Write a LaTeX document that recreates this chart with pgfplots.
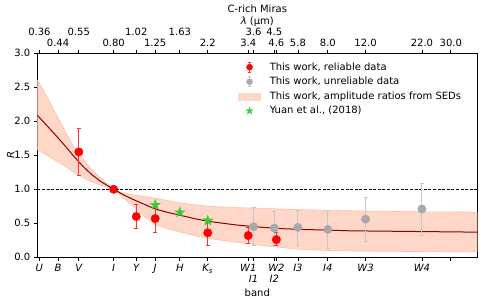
\documentclass[border=0pt]{standalone}
\usepackage{fontspec}
\setmainfont{DejaVu Sans}
\usepackage{pgfplots}
\pgfplotsset{compat=1.18}
\usepgfplotslibrary{fillbetween}

\definecolor{bandfill}{RGB}{255,215,200}
\definecolor{bandedge}{RGB}{252,192,170}
\definecolor{curvecol}{RGB}{139,0,0}
\definecolor{grayc}{RGB}{169,169,169}
\definecolor{grayerr}{RGB}{200,200,200}
\definecolor{starc}{RGB}{50,205,50}
\definecolor{rederr}{RGB}{255,50,50}

\pgfdeclareplotmark{fstar}{%
  \pgfpathmoveto{\pgfpointpolar{90}{\pgfplotmarksize}}%
  \pgfpathlineto{\pgfpointpolar{126}{0.382\pgfplotmarksize}}%
  \pgfpathlineto{\pgfpointpolar{162}{\pgfplotmarksize}}%
  \pgfpathlineto{\pgfpointpolar{198}{0.382\pgfplotmarksize}}%
  \pgfpathlineto{\pgfpointpolar{234}{\pgfplotmarksize}}%
  \pgfpathlineto{\pgfpointpolar{270}{0.382\pgfplotmarksize}}%
  \pgfpathlineto{\pgfpointpolar{306}{\pgfplotmarksize}}%
  \pgfpathlineto{\pgfpointpolar{342}{0.382\pgfplotmarksize}}%
  \pgfpathlineto{\pgfpointpolar{18}{\pgfplotmarksize}}%
  \pgfpathlineto{\pgfpointpolar{54}{0.382\pgfplotmarksize}}%
  \pgfpathclose
  \pgfusepathqfillstroke
}
\newcommand{\low}[1]{\raisebox{-11pt}[\height][\depth]{#1}}

\begin{document}
\begin{tikzpicture}
\begin{axis}[
  name=main,
  scale only axis, width=440pt, height=204pt,
  xmode=log, xmin=0.352, xmax=39.9, ymin=0, ymax=3,
  xtick={0.36,0.44,0.55,0.80,1.02,1.25,1.63,2.2,3.4,3.6,4.5,4.6,5.8,8.0,12.0,22.0,30.0},
  xticklabels={\itshape U,\itshape B,\itshape V,\itshape I,\itshape Y,\itshape J,\itshape H,{\itshape K\textsubscript{s}},\itshape W1,{\low{\itshape I1}},{\low{\itshape I2}},\itshape W2,\itshape I3,\itshape I4,\itshape W3,\itshape W4,{}},
  minor xtick={},
  ytick={0,0.5,1,1.5,2,2.5,3},
  xtick pos=bottom, ytick pos=left,
  tick align=outside, major tick length=3.5pt,
  tick style={black, line width=0.8pt},
  axis line style={line width=0.8pt},
  /pgf/number format/assume math mode=true,
  y tick label style={/pgf/number format/.cd, fixed, fixed zerofill, precision=1},
  ylabel={\itshape R},
  ylabel style={yshift=-7pt},
  xlabel={band},
  xlabel style={at={(axis description cs:0.5,0)}, anchor=base, yshift=-39pt},
  legend style={at={(0.975,0.975)}, anchor=north east, draw=none, fill=none,
    row sep=1.5pt, /tikz/every odd column/.append style={column sep=7pt}},
  legend cell align=left,
]
% legend images
\addlegendimage{legend image code/.code={
  \draw[rederr, line width=1pt] (11pt,-5pt)--(11pt,5pt);
  \draw[rederr, line width=0.8pt] (9.5pt,-5pt)--(12.5pt,-5pt) (9.5pt,5pt)--(12.5pt,5pt);
  \fill[red] (11pt,0pt) circle (3pt);}}
\addlegendentry{This work, reliable data}
\addlegendimage{legend image code/.code={
  \draw[grayerr, line width=1pt] (11pt,-5pt)--(11pt,5pt);
  \draw[grayerr, line width=0.8pt] (9.5pt,-5pt)--(12.5pt,-5pt) (9.5pt,5pt)--(12.5pt,5pt);
  \fill[grayc] (11pt,0pt) circle (3pt);}}
\addlegendentry{This work, unreliable data}
\addlegendimage{legend image code/.code={
  \fill[bandfill] (0pt,-3.5pt) rectangle (22pt,3.5pt);}}
\addlegendentry{This work, amplitude ratios from SEDs}
\addlegendimage{legend image code/.code={
  \path plot[mark=fstar, mark size=3.6pt, mark options={fill=starc, draw=starc}] coordinates {(11pt,0pt)};}}
\addlegendentry{Yuan et al., (2018)}

% band
\addplot[name path=upper, draw=bandedge, line width=0.6pt, forget plot] coordinates {
(0.352,2.61) (0.40,2.30) (0.436,2.07) (0.48,1.83) (0.52,1.62) (0.57,1.46) (0.63,1.29) (0.70,1.16) (0.80,1.00) (0.90,0.94) (1.02,0.91) (1.25,0.87) (1.63,0.80) (2.2,0.75) (3.0,0.73) (4.0,0.72) (6.0,0.70) (10,0.685) (20,0.67) (39.9,0.665)};
\addplot[name path=lower, draw=bandedge, line width=0.6pt, forget plot] coordinates {
(0.352,1.58) (0.40,1.48) (0.436,1.41) (0.48,1.33) (0.52,1.25) (0.57,1.18) (0.63,1.11) (0.70,1.06) (0.80,1.00) (0.90,0.86) (1.02,0.71) (1.13,0.58) (1.25,0.48) (1.43,0.42) (1.63,0.37) (1.9,0.32) (2.2,0.28) (3.0,0.22) (4.0,0.17) (5.8,0.12) (8,0.10) (12,0.09) (20,0.085) (39.9,0.08)};
\addplot[bandfill, forget plot] fill between[of=upper and lower];

% dashed line
\addplot[black, dash pattern=on 3pt off 1.6pt, line width=0.7pt, forget plot] coordinates {(0.352,1) (39.9,1)};

% model curve
\addplot[curvecol, line width=1pt, forget plot] coordinates {
(0.352,2.09) (0.40,1.90) (0.436,1.77) (0.48,1.62) (0.52,1.49) (0.57,1.35) (0.63,1.22) (0.70,1.11) (0.80,1.00) (0.90,0.91) (1.02,0.83) (1.13,0.77) (1.25,0.71) (1.43,0.66) (1.63,0.62) (1.9,0.57) (2.2,0.53) (2.6,0.50) (3.0,0.475) (3.5,0.455) (4.0,0.44) (5.0,0.42) (6.0,0.41) (8.0,0.40) (10,0.39) (14,0.385) (20,0.38) (28,0.375) (39.9,0.37)};

% unreliable (gray)
\addplot[only marks, mark=none, forget plot,
  error bars/.cd, y dir=both, y explicit,
  error bar style={grayerr, line width=1pt},
  error mark options={rotate=90, grayerr, mark size=2pt, line width=0.8pt}]
  table[x=x, y=y, y error plus=ep, y error minus=em] {
x y ep em
3.6 0.45 0.28 0.28
4.5 0.43 0.24 0.25
5.8 0.44 0.25 0.26
8.0 0.41 0.26 0.28
12.0 0.56 0.32 0.33
22.0 0.71 0.38 0.39
};
\addplot[only marks, mark=*, mark size=4.2pt, grayc, mark options={fill=grayc, draw=grayc}, forget plot] table {
3.6 0.45
4.5 0.43
5.8 0.44
8.0 0.41
12.0 0.56
22.0 0.71
};

% reliable (red)
\addplot[only marks, mark=none, forget plot,
  error bars/.cd, y dir=both, y explicit,
  error bar style={rederr, line width=1pt},
  error mark options={rotate=90, rederr, mark size=2pt, line width=0.8pt}]
  table[x=x, y=y, y error plus=ep, y error minus=em] {
x y ep em
0.55 1.55 0.34 0.34
1.02 0.60 0.18 0.18
1.25 0.57 0.20 0.20
2.2 0.36 0.18 0.18
3.4 0.32 0.12 0.11
4.6 0.26 0.10 0.09
};
\addplot[only marks, mark=*, mark size=4.2pt, red, mark options={fill=red, draw=red}, forget plot] table {
0.55 1.55
0.80 1.00
1.02 0.60
1.25 0.57
2.2 0.36
3.4 0.32
4.6 0.26
};

% Yuan et al. stars
\addplot[only marks, mark=fstar, mark size=5.3pt, mark options={fill=starc, draw=starc}, forget plot] table {
1.25 0.77
1.63 0.66
2.2 0.54
};
\end{axis}

\begin{axis}[
  at={(main.south west)}, anchor=south west,
  scale only axis, width=440pt, height=204pt,
  xmode=log, xmin=0.352, xmax=39.9, ymin=0, ymax=3,
  axis x line*=top, axis y line=none,
  xtick={0.36,0.44,0.55,0.80,1.02,1.25,1.63,2.2,3.4,3.6,4.5,4.6,5.8,8.0,12.0,22.0,30.0},
  xticklabels={{\raisebox{11pt}{0.36}},0.44,{\raisebox{11pt}{0.55}},0.80,{\raisebox{11pt}{1.02}},1.25,{\raisebox{11pt}{1.63}},2.2,3.4,{\raisebox{11pt}{3.6}},{\raisebox{11pt}{4.5}},4.6,5.8,8.0,12.0,22.0,30.0},
  minor xtick={},
  tick align=outside, major tick length=3.5pt,
  tick style={black, line width=0.8pt},
  axis line style={line width=0.8pt},
  xlabel={C-rich Miras\\[0.6pt]{\itshape λ} (μm)},
  xlabel style={align=center, yshift=-6pt},
]
\addplot[draw=none] coordinates {(1,1)};
\end{axis}
\pgfresetboundingbox
\useasboundingbox ([xshift=-37.3pt,yshift=-42.7pt]main.south west) rectangle ([xshift=2.7pt,yshift=53.3pt]main.north east);
\end{tikzpicture}
\end{document}
